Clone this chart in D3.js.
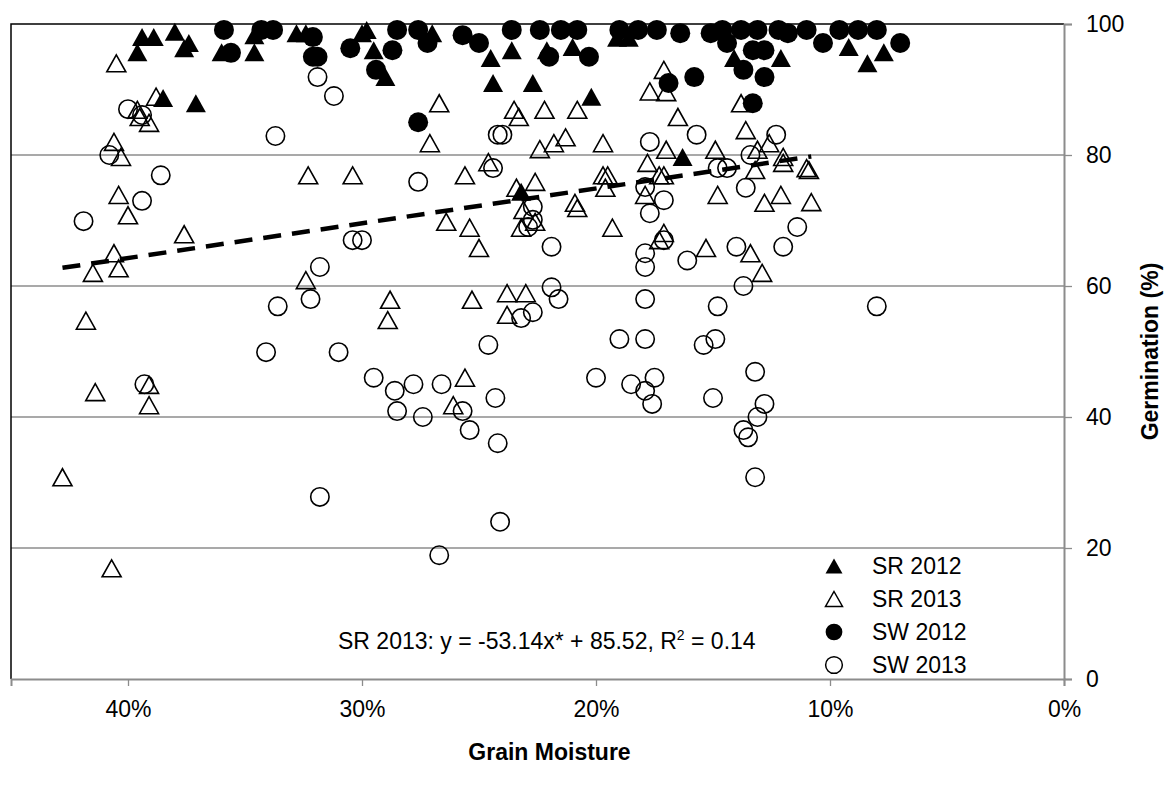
<!DOCTYPE html>
<html>
<head>
<meta charset="utf-8">
<script src="https://cdn.jsdelivr.net/npm/d3@7"></script>
<style>
  body { margin: 0; background: #fff; }
  svg { font-family: "Liberation Sans", Arial, sans-serif; }
</style>
</head>
<body>
<svg id="chart" width="1173" height="788"></svg>
<script>
// grain moisture (fraction) vs germination (%)
const sr2012 = [
  [0.394,98.0],[0.389,98.0],[0.396,95.7],[0.380,98.8],[0.376,96.3],[0.374,97.1],[0.360,95.7],[0.346,98.3],
  [0.346,95.7],[0.328,98.6],[0.324,98.6],[0.300,98.6],[0.385,88.7],[0.371,87.9],[0.298,99.1],[0.295,96.0],
  [0.290,91.9],[0.244,91.0],[0.227,91.0],[0.202,88.9],[0.245,94.8],[0.236,96.0],[0.221,96.0],[0.210,96.5],
  [0.191,97.9],[0.186,97.9],[0.163,79.7],[0.270,98.6],[0.232,74.4],[0.141,94.8],[0.121,94.8],[0.092,96.5],
  [0.084,94.0],[0.077,95.7]
]
const sr2013 = [
  [0.405,94.0],[0.396,86.9],[0.395,85.8],[0.391,84.9],[0.406,82.0],[0.403,79.7],[0.404,73.9],[0.400,70.8],
  [0.376,67.9],[0.406,65.0],[0.404,62.7],[0.415,62.0],[0.323,76.9],[0.304,76.9],[0.324,60.9],[0.418,54.7],
  [0.388,88.9],[0.414,43.8],[0.391,44.9],[0.391,41.8],[0.428,30.8],[0.407,16.9],
  [0.267,87.9],[0.271,81.8],[0.235,86.9],[0.233,85.8],[0.222,86.9],[0.208,86.9],[0.224,80.9],[0.218,81.8],
  [0.213,82.7],[0.197,81.8],[0.171,93.0],[0.177,89.7],[0.170,89.6],[0.165,85.8],[0.170,80.8],[0.149,80.8],
  [0.246,78.9],[0.256,76.9],[0.178,78.8],[0.195,76.9],[0.197,76.9],[0.173,76.9],[0.171,76.9],[0.196,75.0],
  [0.234,75.0],[0.226,75.9],[0.179,73.9],[0.209,72.7],[0.208,71.9],[0.148,73.9],[0.264,69.8],[0.254,68.9],
  [0.250,65.8],[0.231,71.6],[0.226,69.8],[0.232,68.9],[0.193,68.9],[0.173,67.0],[0.171,68.1],[0.153,65.8],
  [0.288,57.9],[0.289,54.8],[0.253,57.9],[0.238,58.9],[0.230,58.9],[0.238,55.6],[0.256,46.0],[0.261,41.8],
  [0.138,87.9],[0.136,83.8],[0.131,80.8],[0.126,81.8],[0.120,79.7],[0.120,78.8],[0.132,77.7],[0.109,77.7],
  [0.110,78.0],[0.128,72.7],[0.121,73.9],[0.108,72.8],[0.134,65.0],[0.129,62.0]
]
const sw2012 = [
  [0.359,99.1],[0.356,95.6],[0.343,99.1],[0.338,99.1],[0.321,98.0],[0.321,95.0],[0.319,95.0],[0.305,96.3],
  [0.285,99.1],[0.287,96.0],[0.276,99.1],[0.272,97.1],[0.257,98.3],[0.250,97.1],[0.236,99.1],[0.224,99.1],
  [0.220,95.0],[0.215,99.1],[0.208,99.1],[0.203,95.0],[0.190,99.1],[0.182,99.1],[0.174,99.1],[0.164,98.6],
  [0.151,98.6],[0.294,93.0],[0.276,85.0],[0.169,91.0],[0.158,91.9],[0.146,99.1],[0.138,99.1],[0.131,99.1],
  [0.122,99.1],[0.118,98.6],[0.110,99.1],[0.103,97.1],[0.096,99.1],[0.088,99.1],[0.080,99.1],[0.070,97.1],
  [0.144,97.1],[0.133,96.0],[0.128,96.0],[0.137,93.0],[0.128,91.9],[0.133,87.9]
]
const sw2013 = [
  [0.400,87.0],[0.394,86.1],[0.408,80.0],[0.386,76.9],[0.394,73.0],[0.419,69.9],[0.319,91.9],[0.312,89.0],
  [0.337,82.9],[0.304,67.0],[0.300,67.0],[0.318,62.9],[0.322,58.0],[0.336,56.9],[0.393,45.0],[0.341,49.9],
  [0.310,49.9],[0.295,46.0],[0.318,27.8],
  [0.242,83.1],[0.240,83.1],[0.244,78.0],[0.276,75.9],[0.177,82.0],[0.157,83.1],[0.148,78.0],[0.227,72.1],
  [0.227,70.1],[0.229,69.0],[0.219,66.0],[0.179,75.1],[0.171,73.1],[0.177,71.1],[0.171,67.0],[0.179,65.0],
  [0.179,62.9],[0.161,63.9],[0.219,59.8],[0.216,58.0],[0.179,58.0],[0.148,56.9],[0.227,56.0],[0.232,55.1],
  [0.246,51.0],[0.190,51.9],[0.179,51.9],[0.154,51.0],[0.149,51.9],[0.286,44.0],[0.278,45.0],[0.266,45.0],
  [0.285,40.9],[0.274,40.0],[0.257,40.9],[0.254,38.0],[0.243,42.9],[0.242,36.0],[0.200,46.0],[0.185,45.0],
  [0.179,44.0],[0.175,46.0],[0.176,42.0],[0.150,42.9],[0.241,24.0],[0.267,18.9],
  [0.132,46.9],[0.128,42.0],[0.131,40.0],[0.137,38.0],[0.135,36.9],[0.132,30.8],
  [0.123,83.1],[0.134,80.0],[0.144,78.0],[0.136,75.0],[0.114,69.0],[0.140,66.0],[0.120,66.0],[0.137,60.0],
  [0.080,56.9]
]
const xTicks = [0.4, 0.3, 0.2, 0.1, 0]
const yTicks = [0, 20, 40, 60, 80, 100]
const seriesNames = ['SR 2012', 'SR 2013', 'SW 2012', 'SW 2013']
// trend for SR 2013
const slope = -53.14
const intercept = 85.52

const FONT = '"Liberation Sans", Arial, sans-serif'
const svg = d3.select('#chart')
const L = 11, R = 1064, T = 24, B = 679

const x = d3.scaleLinear().domain([0.45, 0]).range([L, R])
const y = d3.scaleLinear().domain([0, 100]).range([B, T])

const triPath = (w, h) => `M0,${-h/2}L${w/2},${h/2}L${-w/2},${h/2}Z`

// gridlines
svg.append('g')
  .selectAll('line')
  .data(yTicks.filter(d => d > 0 && d < 100))
  .join('line')
  .attr('x1', L).attr('x2', R)
  .attr('y1', d => y(d)).attr('y2', d => y(d))
  .attr('stroke', '#8c8c8c').attr('stroke-width', 1.3)

// plot border (top / left)
svg.append('path')
  .attr('d', `M${L},${B}L${L},${T}L${R},${T}`)
  .attr('fill', 'none').attr('stroke', '#000').attr('stroke-width', 1.5)

// axes
const yAxis = svg.append('g')
  .attr('transform', `translate(${R},0)`)
  .call(d3.axisRight(y).tickValues(yTicks).tickSize(8).tickPadding(14))
yAxis.select('.domain').attr('stroke', '#8c8c8c').attr('stroke-width', 2)
yAxis.selectAll('.tick line').attr('stroke', '#8c8c8c').attr('stroke-width', 1.3)
yAxis.selectAll('text').attr('font-size', 23).attr('fill', '#000').attr('font-family', FONT)

const xAxis = svg.append('g')
  .attr('transform', `translate(0,${B})`)
  .call(d3.axisBottom(x).tickValues(xTicks).tickFormat(d3.format('.0%')).tickSize(7).tickPadding(15))
xAxis.select('.domain').attr('stroke', '#8c8c8c').attr('stroke-width', 2)
xAxis.selectAll('.tick line').attr('stroke', '#8c8c8c').attr('stroke-width', 1.3)
xAxis.selectAll('text').attr('font-size', 23).attr('fill', '#000').attr('font-family', FONT)

// markers
const plot = svg.append('g')
plot.append('g').selectAll('path').data(sr2012).join('path')
  .attr('d', triPath(20, 18))
  .attr('transform', d => `translate(${x(d[0])},${y(d[1])})`)
  .attr('fill', '#000')
plot.append('g').selectAll('path').data(sr2013).join('path')
  .attr('d', triPath(19, 17))
  .attr('transform', d => `translate(${x(d[0])},${y(d[1])})`)
  .attr('fill', 'none').attr('stroke', '#000').attr('stroke-width', 1.6)
plot.append('g').selectAll('circle').data(sw2012).join('circle')
  .attr('cx', d => x(d[0])).attr('cy', d => y(d[1])).attr('r', 10)
  .attr('fill', '#000')
plot.append('g').selectAll('circle').data(sw2013).join('circle')
  .attr('cx', d => x(d[0])).attr('cy', d => y(d[1])).attr('r', 9.2)
  .attr('fill', 'none').attr('stroke', '#000').attr('stroke-width', 1.6)

// trendline over SR 2013 range
const ext = d3.extent(sr2013, d => d[0])
svg.append('line')
  .attr('x1', x(ext[1])).attr('y1', y(slope * ext[1] + intercept))
  .attr('x2', x(ext[0])).attr('y2', y(slope * ext[0] + intercept))
  .attr('stroke', '#000').attr('stroke-width', 4.5)
  .attr('stroke-dasharray', '18,11')

// equation
const eq = svg.append('text')
  .attr('x', 338).attr('y', 649)
  .attr('font-size', 23)
eq.append('tspan').text('SR 2013: y = -53.14x* + 85.52, R')
eq.append('tspan').attr('font-size', 14).attr('dy', -9).text('2')
eq.append('tspan').attr('dy', 9).text(' = 0.14')

// legend
const leg = svg.append('g').selectAll('g').data(seriesNames).join('g')
  .attr('transform', (d, i) => `translate(834,${566 + i * 33})`)
leg.append('path')
  .attr('d', (d, i) => i < 2 ? triPath(17, 15) : d3.symbol(d3.symbolCircle, 220)())
  .attr('fill', (d, i) => i % 2 === 0 ? '#000' : 'none')
  .attr('stroke', (d, i) => i % 2 === 0 ? 'none' : '#000')
  .attr('stroke-width', 1.5)
leg.append('text')
  .attr('x', 38).attr('dy', '0.36em')
  .attr('font-size', 23)
  .text(d => d)

// axis titles
svg.append('text')
  .attr('x', (L + R) / 2 + 12).attr('y', 760)
  .attr('text-anchor', 'middle')
  .attr('font-size', 23).attr('font-weight', 'bold')
  .text('Grain Moisture')
svg.append('text')
  .attr('transform', `translate(1158,${(T + B) / 2}) rotate(-90)`)
  .attr('text-anchor', 'middle')
  .attr('font-size', 23).attr('font-weight', 'bold')
  .text('Germination (%)')
</script>
</body>
</html>
